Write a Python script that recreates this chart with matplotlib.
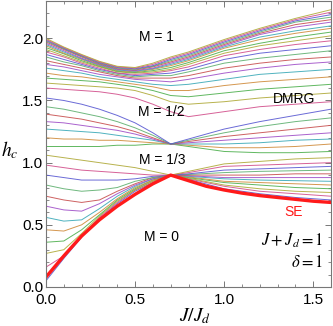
import matplotlib
matplotlib.use("Agg")
import matplotlib.pyplot as plt
from matplotlib.ticker import MultipleLocator

plt.rcParams['font.family'] = ['Liberation Sans', 'DejaVu Sans']
plt.rcParams['mathtext.fontset'] = 'stix'

# x grid (J/J_d)
x = [0.0, 0.1, 0.2, 0.3, 0.4, 0.5, 0.6, 0.7, 0.8, 1.0, 1.2, 1.4, 1.6]

# SE (series expansion) curve
se_x = [0.0, 0.1, 0.2, 0.3, 0.4, 0.5, 0.6, 0.7, 0.8, 0.9, 1.0, 1.1, 1.2, 1.3, 1.4, 1.5, 1.6]
se = [0.08, 0.25, 0.41, 0.54, 0.65, 0.745, 0.83, 0.90, 0.855, 0.81, 0.78, 0.755, 0.735, 0.72, 0.705, 0.69, 0.68]

# DMRG curves, group 0 < M < 1/3
dmrg_low = [
    [0.05, 0.23, 0.40, 0.55, 0.67, 0.77, 0.84, 0.90, 0.865, 0.79, 0.75, 0.72, 0.70],
    [0.16, 0.25, 0.41, 0.56, 0.68, 0.78, 0.85, 0.90, 0.87, 0.81, 0.77, 0.75, 0.73],
    [0.27, 0.30, 0.43, 0.57, 0.69, 0.78, 0.85, 0.90, 0.875, 0.82, 0.79, 0.77, 0.76],
    [0.36, 0.37, 0.46, 0.58, 0.70, 0.79, 0.86, 0.90, 0.88, 0.84, 0.82, 0.80, 0.79],
    [0.46, 0.45, 0.50, 0.60, 0.71, 0.80, 0.86, 0.90, 0.885, 0.85, 0.84, 0.83, 0.82],
    [0.56, 0.53, 0.54, 0.63, 0.73, 0.81, 0.87, 0.90, 0.89, 0.87, 0.86, 0.855, 0.85],
    [0.65, 0.62, 0.61, 0.67, 0.75, 0.82, 0.87, 0.90, 0.895, 0.88, 0.88, 0.88, 0.88],
    [0.73, 0.70, 0.68, 0.70, 0.77, 0.83, 0.88, 0.90, 0.90, 0.90, 0.90, 0.91, 0.91],
    [0.82, 0.79, 0.77, 0.78, 0.80, 0.85, 0.88, 0.90, 0.905, 0.92, 0.93, 0.935, 0.94],
    [0.90, 0.88, 0.86, 0.86, 0.86, 0.87, 0.89, 0.90, 0.91, 0.94, 0.95, 0.96, 0.97],
    [0.98, 0.96, 0.94, 0.93, 0.92, 0.91, 0.90, 0.90, 0.92, 0.97, 0.98, 0.99, 1.00],
    [1.06, 1.04, 1.02, 1.00, 0.98, 0.96, 0.93, 0.90, 0.93, 0.99, 1.01, 1.03, 1.04],
]

# DMRG curves, group 1/3 < M < 1/2
dmrg_mid = [
    [1.13, 1.13, 1.13, 1.13, 1.14, 1.14, 1.15, 1.15, 1.13, 1.09, 1.08, 1.08, 1.09],
    [1.20, 1.19, 1.19, 1.18, 1.18, 1.17, 1.16, 1.15, 1.14, 1.12, 1.12, 1.13, 1.15],
    [1.27, 1.26, 1.25, 1.24, 1.22, 1.20, 1.18, 1.15, 1.15, 1.15, 1.16, 1.18, 1.19],
    [1.33, 1.32, 1.30, 1.28, 1.26, 1.23, 1.19, 1.15, 1.16, 1.18, 1.20, 1.22, 1.24],
    [1.39, 1.37, 1.35, 1.32, 1.29, 1.25, 1.20, 1.15, 1.17, 1.21, 1.24, 1.27, 1.30],
    [1.45, 1.43, 1.40, 1.37, 1.33, 1.28, 1.22, 1.15, 1.18, 1.24, 1.29, 1.33, 1.36],
    [1.52, 1.50, 1.47, 1.43, 1.38, 1.32, 1.24, 1.15, 1.19, 1.27, 1.33, 1.38, 1.43],
]

# DMRG curves, group 1/2 < M < 1
dmrg_high = [
    [1.60, 1.59, 1.58, 1.57, 1.55, 1.52, 1.47, 1.41, 1.37, 1.41, 1.45, 1.47, 1.49],
    [1.64, 1.63, 1.62, 1.61, 1.60, 1.58, 1.54, 1.49, 1.47, 1.49, 1.52, 1.54, 1.56],
    [1.68, 1.67, 1.66, 1.65, 1.63, 1.61, 1.58, 1.54, 1.53, 1.56, 1.59, 1.61, 1.63],
    [1.72, 1.70, 1.69, 1.67, 1.65, 1.63, 1.61, 1.58, 1.58, 1.62, 1.65, 1.67, 1.69],
    [1.76, 1.74, 1.72, 1.69, 1.67, 1.65, 1.63, 1.62, 1.63, 1.67, 1.71, 1.73, 1.75],
    [1.79, 1.77, 1.74, 1.71, 1.69, 1.67, 1.66, 1.65, 1.67, 1.72, 1.76, 1.79, 1.81],
    [1.82, 1.79, 1.76, 1.73, 1.70, 1.68, 1.68, 1.68, 1.70, 1.76, 1.80, 1.83, 1.85],
    [1.85, 1.81, 1.78, 1.74, 1.71, 1.69, 1.70, 1.70, 1.73, 1.80, 1.84, 1.87, 1.90],
    [1.87, 1.83, 1.79, 1.75, 1.72, 1.70, 1.71, 1.72, 1.75, 1.83, 1.88, 1.91, 1.94],
    [1.89, 1.85, 1.80, 1.76, 1.72, 1.71, 1.72, 1.74, 1.77, 1.86, 1.91, 1.95, 1.98],
    [1.91, 1.86, 1.81, 1.77, 1.73, 1.72, 1.73, 1.75, 1.79, 1.88, 1.94, 1.98, 2.02],
    [1.925, 1.875, 1.82, 1.775, 1.735, 1.725, 1.74, 1.765, 1.805, 1.90, 1.96, 2.01, 2.05],
    [1.94, 1.88, 1.83, 1.78, 1.74, 1.73, 1.75, 1.78, 1.82, 1.92, 1.99, 2.04, 2.08],
    [1.95, 1.89, 1.835, 1.785, 1.745, 1.735, 1.755, 1.79, 1.83, 1.93, 2.01, 2.06, 2.10],
    [1.96, 1.90, 1.84, 1.79, 1.75, 1.74, 1.76, 1.80, 1.84, 1.94, 2.03, 2.09, 2.13],
    [1.97, 1.91, 1.85, 1.795, 1.755, 1.745, 1.77, 1.81, 1.85, 1.95, 2.04, 2.11, 2.15],
    [1.978, 1.915, 1.855, 1.80, 1.76, 1.75, 1.775, 1.82, 1.86, 1.96, 2.05, 2.13, 2.17],
    [1.985, 1.92, 1.86, 1.805, 1.765, 1.755, 1.78, 1.83, 1.87, 1.97, 2.06, 2.14, 2.19],
    [1.992, 1.925, 1.865, 1.81, 1.77, 1.76, 1.79, 1.84, 1.88, 1.98, 2.07, 2.15, 2.21],
    [2.00, 1.93, 1.87, 1.815, 1.775, 1.765, 1.80, 1.85, 1.89, 1.99, 2.08, 2.16, 2.23],
]

palette = ['#5a5ad2', '#d2508c', '#b0aa3a', '#4fb04f', '#d08c3c',
           '#3caab8', '#a050c8', '#c85050', '#5fb070']

fig = plt.figure(figsize=(3.33, 3.26), dpi=100)
ax = fig.add_axes([46/333, 1-287/326, (331-46)/333, (287-1)/326])

curves = dmrg_low + dmrg_mid + dmrg_high
for i, c in enumerate(curves):
    ax.plot(x, c, color=palette[i % len(palette)], lw=0.7, alpha=0.9)

ax.plot(se_x, se, color='#ff1a1a', lw=2.4, solid_joinstyle='round')

ax.set_xlim(0, 1.6)
ax.set_ylim(0, 2.3)
ax.xaxis.set_major_locator(MultipleLocator(0.5))
ax.xaxis.set_minor_locator(MultipleLocator(0.1))
ax.yaxis.set_major_locator(MultipleLocator(0.5))
ax.yaxis.set_minor_locator(MultipleLocator(0.1))
ax.tick_params(which='both', direction='in', top=True, right=True,
               color='#777777', labelsize=11)
ax.tick_params(axis='y', pad=2)
ax.tick_params(axis='x', pad=4.5)
ax.tick_params(which='major', length=4, width=0.7)
ax.tick_params(which='minor', length=2, width=0.6)
for s in ax.spines.values():
    s.set_color('#777777')
    s.set_linewidth(0.8)

fig.text(10/333, 1-150/326, r'$h_c$', fontsize=14, ha='center', va='center')
fig.text(195/333, 1-316/326, r'$J/J_d$', fontsize=14, ha='center', va='center')

ax.text(0.62, 2.01, 'M = 1', fontsize=10, ha='center', va='center')
ax.text(0.65, 1.41, 'M = 1/2', fontsize=10, ha='center', va='center')
ax.text(0.65, 1.02, 'M = 1/3', fontsize=10, ha='center', va='center')
ax.text(0.65, 0.40, 'M = 0', fontsize=10, ha='center', va='center')
ax.text(1.39, 1.51, 'DMRG', fontsize=10, ha='center', va='center')
ax.text(1.39, 0.60, 'SE', fontsize=10, ha='center', va='center', color='#ff1a1a')
ax.text(1.556, 0.37, r'$J + J_d = 1$', fontsize=12, ha='right', va='center')
ax.text(1.556, 0.20, r'$\delta = 1$', fontsize=12, ha='right', va='center')

fig.savefig('out.png', dpi=100)
